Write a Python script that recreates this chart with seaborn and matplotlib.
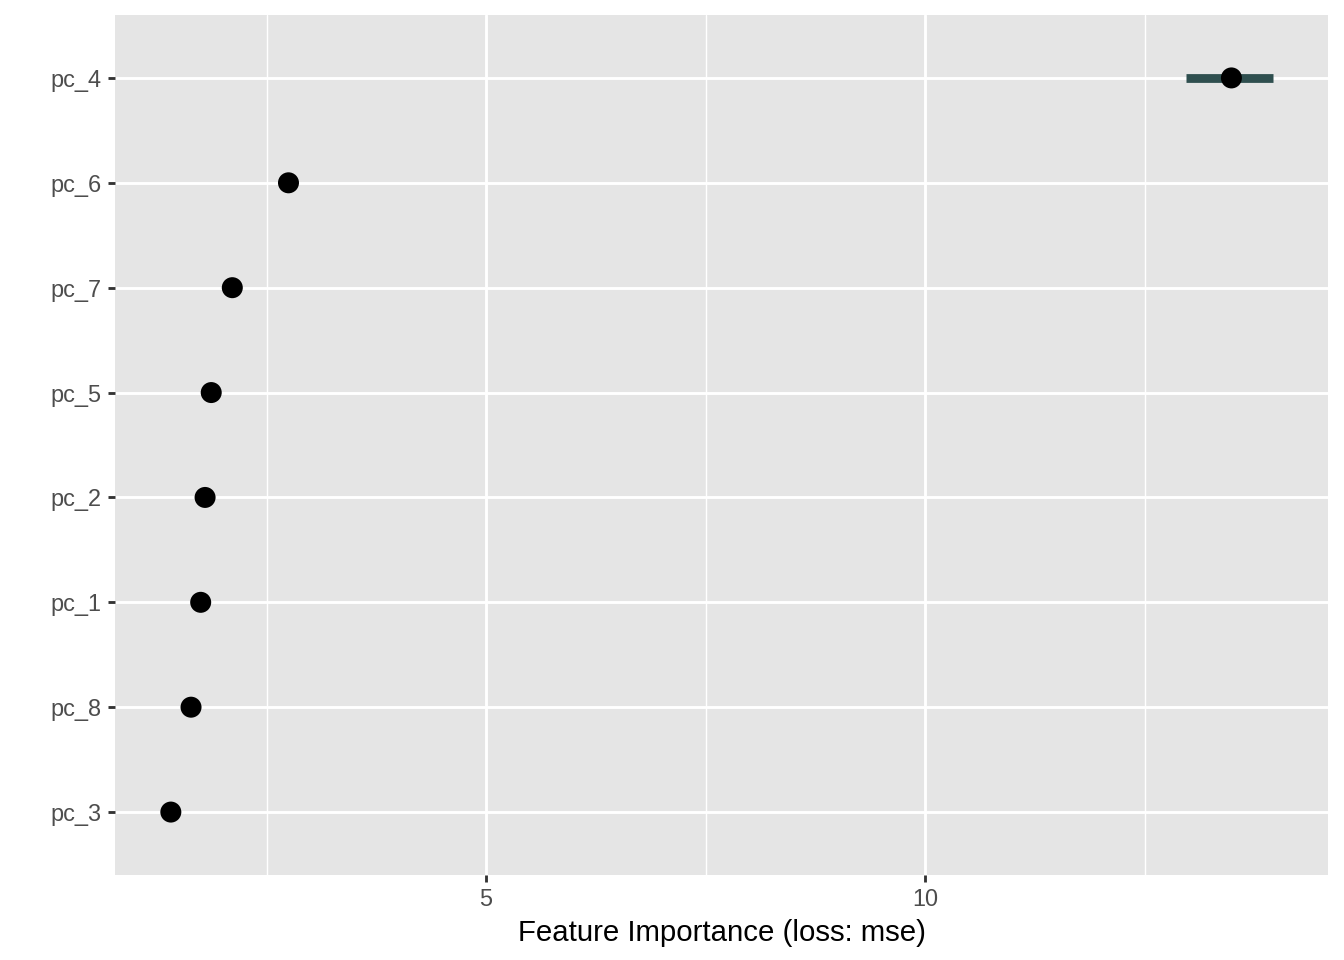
import numpy as np
import pandas as pd
import matplotlib
matplotlib.use('Agg')
import matplotlib.pyplot as plt
import seaborn as sns

# 特征重要性数据（自下而上的顺序）
features = ['pc_3', 'pc_8', 'pc_1', 'pc_2', 'pc_5', 'pc_7', 'pc_6', 'pc_4']
importance = [1.41, 1.64, 1.75, 1.80, 1.87, 2.11, 2.75, 13.49]
imp_low = [1.39, 1.62, 1.73, 1.78, 1.85, 2.09, 2.72, 12.97]
imp_high = [1.43, 1.66, 1.77, 1.82, 1.89, 2.13, 2.78, 13.96]

df = pd.DataFrame({'feature': features, 'importance': importance,
                   'low': imp_low, 'high': imp_high})

sns.set_theme(style='darkgrid', rc={
    'axes.facecolor': '#E5E5E5',
    'grid.color': 'white',
    'axes.edgecolor': 'none',
})
plt.rcParams['font.family'] = ['Liberation Sans', 'DejaVu Sans']

fig = plt.figure(figsize=(7, 5), dpi=192)
ax = fig.add_axes([115 / 1344, 1 - 875 / 960, (1328 - 115) / 1344, (875 - 15) / 960])

# 区间线
ax.hlines(df['feature'], df['low'], df['high'], color='#2F4F4F', linewidth=3.3, zorder=3)
# 点
sns.scatterplot(data=df, x='importance', y='feature', ax=ax, color='black',
                s=62, edgecolor='none', zorder=4, legend=False)

ax.set_ylim(-0.6, len(features) - 0.4)
ax.set_xlim(0.774, 14.59)
ax.set_xticks([5, 10])
ax.set_xticks([2.5, 7.5, 12.5], minor=True)
ax.grid(True, which='major', color='white', linewidth=1.07)
ax.grid(True, which='minor', axis='x', color='white', linewidth=0.53)
ax.set_axisbelow(True)

ax.tick_params(axis='both', which='major', length=2.75, width=1.07, color='#333333',
               labelsize=8.8, labelcolor='#4D4D4D', pad=2.2)
ax.tick_params(axis='x', which='minor', length=0)
ax.tick_params(left=True, bottom=True)
ax.set_xlabel('Feature Importance (loss: mse)', fontsize=11, color='black', labelpad=3)
ax.set_ylabel('')
for s in ax.spines.values():
    s.set_visible(False)

fig.savefig('out.png', dpi=192)
